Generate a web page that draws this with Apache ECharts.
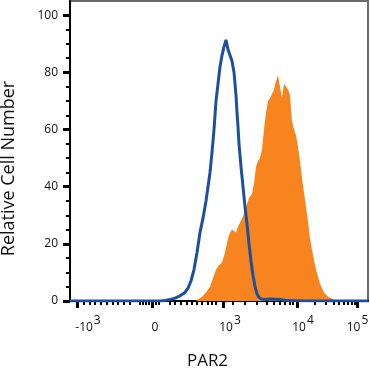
<!DOCTYPE html>
<html><head><meta charset="utf-8">
<script src="https://cdn.jsdelivr.net/npm/echarts@6/dist/echarts.min.js"></script>
<style>html,body{margin:0;padding:0;background:#fff}#c{width:370px;height:372px}</style>
</head><body><div id="c"></div>
<script>
// x values are positions on the biexponential display scale (0..298)
var blueX = [0,90,95,100,105,110,115,118,121,124,127,130,133,136,138,140,142,144,146,148,150,152,154,156,158,160,162,164,166,167,168,169,171,173,175,177,179,181,183,185,187,189,192,196,200,205,210,215,220,230,250,298];
var blueY = [0,0,0.2,0.5,1,1.8,3,4.5,7,11,17,24,29,35,40,45,52,60,70,76,82,86,89,91.4,88,86,84,80,72,66,61,55,47,40,33,27,20,14,9,5,2.5,1.2,0.6,0.5,0.7,0.6,0.5,0.3,0.2,0.1,0,0];
var orangeX = [0,125,128,132,136,140,142,143,146,149,152,155,158,160,162,164,166,168,170,173,176,179,182,184,186,188,190,192,194,196,198,200,202,204,206,208,210,212,214,216,218,220,222,224,226,228,230,232,234,236,238,240,243,246,250,254,258,262,266,270,275,298];
var orangeY = [0,0,0.5,1.5,3,5,5.5,8,11,12.5,13.5,17,22,24,25,24.8,24,26,27.5,29.5,33,36,37.5,41,47,49,50,53,60,66,70,71,71.5,74,77,79,75,71,76,76,74,72,63,60,58,54,49,43,38,33,28,22,16,11,6,3,1.5,0.8,0.3,0.1,0,0];
var yTicks = [0,20,40,60,80,100];
var yMinorTicks = [5,10,15,25,30,35,45,50,55,65,70,75,85,90,95];
var xMajorTickPos = [7,82,153,227,287];
var xLabelPos = [18,85,160,233,287.5];
var xMajorBase = ['-10','0','10','10','10'];
var xMajorExp = ['3','','3','4','5'];
var xMinorPos = [14,20,25,31,37,43,48,54,60,70,73,76,79,86,89,100,105,111,117,122,127,132,138,142,146,163,175,187,197,204,210,215,220,223,245,256,264,269,274,278,282,285];

function pair(xs, ys){ return xs.map(function(x,i){ return [x, ys[i]]; }); }

var chart = echarts.init(document.getElementById('c'));
var font = 'Open Sans';
chart.setOption({
  animation: false,
  grid: {left: 70, top: 1, width: 298, height: 300, outerBoundsMode: 'none', containLabel: false, show: true, borderColor: '#6b6b6b', borderWidth: 2, backgroundColor: '#fff'},
  xAxis: [{
    type: 'value', min: 0, max: 298, position: 'bottom',
    name: 'PAR2', nameLocation: 'middle', nameGap: 52,
    nameTextStyle: {fontFamily: font, fontSize: 17, color: '#111', padding: [0, 23, 0, 0]},
    axisLine: {onZero: false, lineStyle: {color: '#000', width: 2}},
    axisTick: {customValues: xMajorTickPos, length: 7, lineStyle: {color: '#000', width: 3}},
    axisLabel: {
      customValues: xLabelPos, margin: 19, fontFamily: font,
      formatter: function(v){
        var i = xLabelPos.indexOf(v);
        if (i < 0) return '';
        return '{b|' + xMajorBase[i] + '}' + (xMajorExp[i] ? '{s|' + xMajorExp[i] + '}' : '');
      },
      rich: {
        b: {fontFamily: font, fontSize: 12, color: '#111', verticalAlign: 'bottom', lineHeight: 14},
        s: {fontFamily: font, fontSize: 12, color: '#111', verticalAlign: 'bottom', lineHeight: 14, padding: [0, 0, 7, 1]}
      }
    },
    splitLine: {show: false}
  }, {
    type: 'value', min: 0, max: 298, position: 'bottom',
    axisLine: {show: false},
    axisTick: {customValues: xMinorPos, length: 4, lineStyle: {color: '#000', width: 2}},
    axisLabel: {show: false},
    splitLine: {show: false}
  }],
  yAxis: [{
    type: 'value', min: 0, max: 105, position: 'left',
    name: 'Relative Cell Number', nameLocation: 'middle', nameGap: 52, nameRotate: 90,
    nameTextStyle: {fontFamily: font, fontSize: 18, color: '#111', padding: [0, 35, 0, 0]},
    axisLine: {onZero: false, lineStyle: {color: '#000', width: 2}},
    axisTick: {customValues: yTicks, length: 7, lineStyle: {color: '#000', width: 3}},
    axisLabel: {customValues: yTicks, margin: 12, fontFamily: font, fontSize: 12, color: '#111'},
    splitLine: {show: false}
  }, {
    type: 'value', min: 0, max: 105, position: 'left',
    axisLine: {show: false},
    axisTick: {customValues: yMinorTicks, length: 4, lineStyle: {color: '#000', width: 2}},
    axisLabel: {show: false},
    splitLine: {show: false}
  }],
  series: [{
    type: 'line', data: pair(orangeX, orangeY), showSymbol: false, smooth: false,
    lineStyle: {width: 0, color: '#f7841f'}, areaStyle: {color: '#f7841f', opacity: 1}, z: 2
  }, {
    type: 'line', data: pair(blueX, blueY), showSymbol: false, smooth: false,
    lineStyle: {width: 3, color: '#1d4f9f'}, z: 3
  }]
});
</script></body></html>
